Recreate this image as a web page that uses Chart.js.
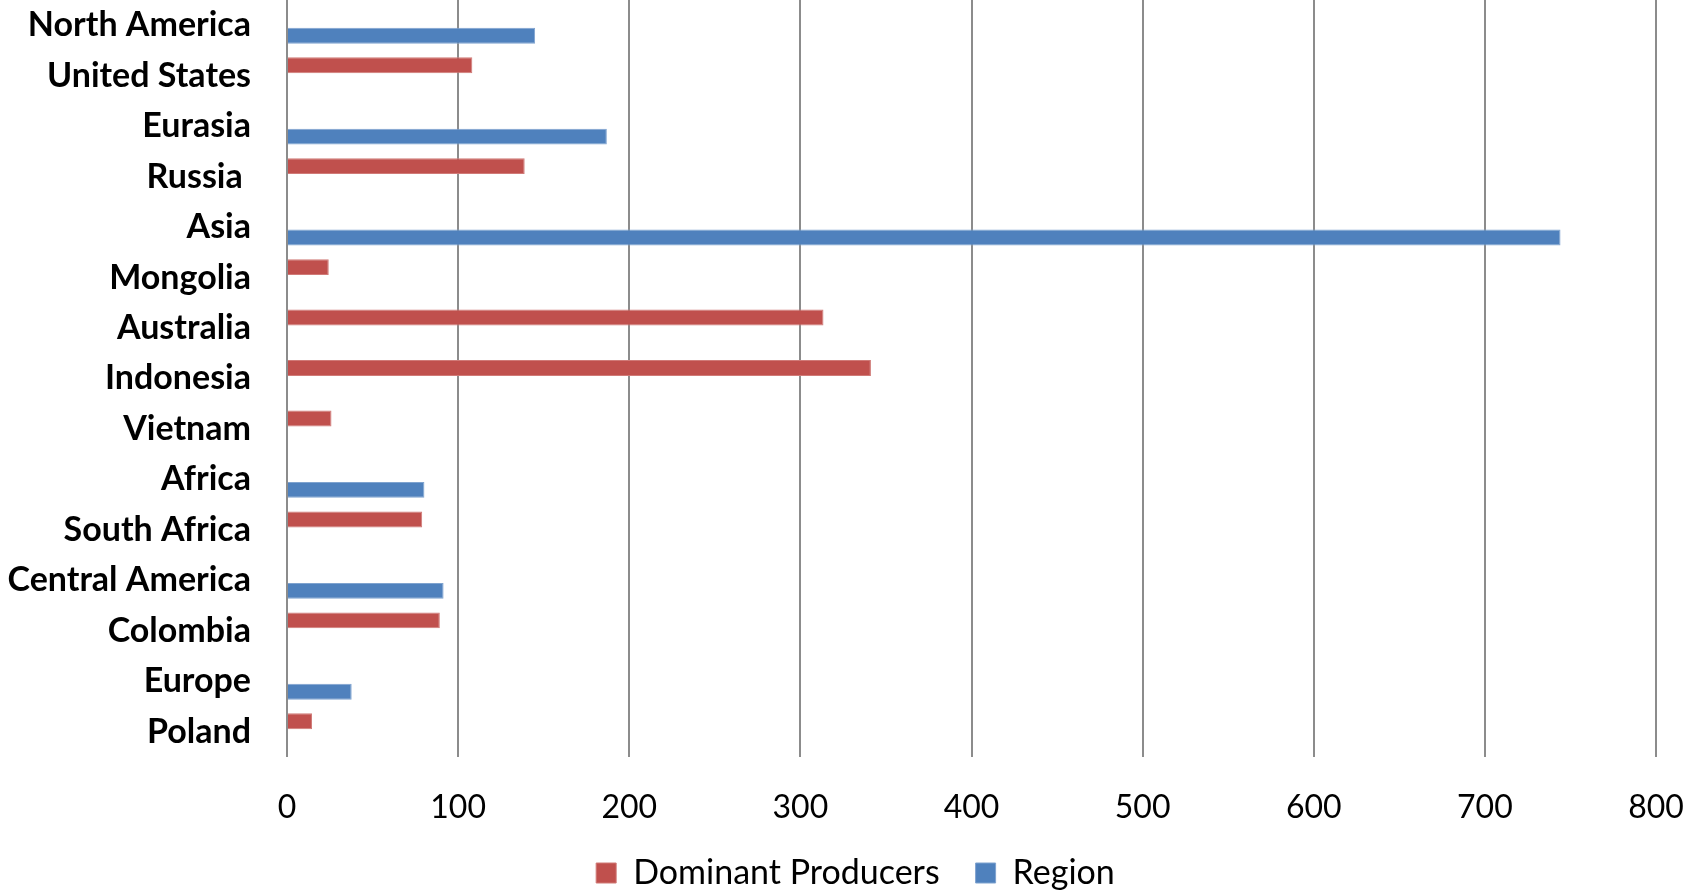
<!DOCTYPE html>
<html>
<head>
<meta charset="utf-8">
<title>Coal production by region and dominant producer</title>
<script src="https://cdn.jsdelivr.net/npm/chart.js@4/dist/chart.umd.min.js"></script>
<style>
  html, body { margin: 0; padding: 0; background: #ffffff; }
  #wrap { width: 1686px; height: 890px; }
</style>
</head>
<body>
<div id="wrap"><canvas id="chart" width="1686" height="890"></canvas></div>
<script>
// Categories, top to bottom
const categories = [
  'North America', 'United States', 'Eurasia', 'Russia ', 'Asia', 'Mongolia',
  'Australia', 'Indonesia', 'Vietnam', 'Africa', 'South Africa',
  'Central America', 'Colombia', 'Europe', 'Poland'
];

// Dominant producing countries (red)
const dominantProducers = [
  null, 108.3, null, 138.9, null, 24.4,
  313.5, 341.2, 26.0, null, 79.0,
  null, 89.3, null, 14.6
];

// Regional totals (blue)
const regionTotals = [
  145.0, null, 186.9, null, 744.2, null,
  null, null, null, 80.3, null,
  91.5, null, 37.8, null
];

// Value axis tick labels
const valueTicks = [0, 100, 200, 300, 400, 500, 600, 700, 800];

const seriesNames = ['Dominant Producers', 'Region'];
const RED = '#C0504D';
const BLUE = '#4F81BD';
const GRID = '#8C8C8C';

Chart.defaults.font.family = 'Lato, "Open Sans", "DejaVu Sans", sans-serif';
Chart.defaults.color = '#000000';

new Chart(document.getElementById('chart'), {
  type: 'bar',
  data: {
    labels: categories,
    datasets: [
      {
        label: seriesNames[0],
        data: dominantProducers,
        backgroundColor: RED,
        borderColor: '#D07A77',
        borderWidth: 1,
        categoryPercentage: 0.83,
        barPercentage: 0.76
      },
      {
        label: seriesNames[1],
        data: regionTotals,
        backgroundColor: BLUE,
        borderColor: '#7FA3CF',
        borderWidth: 1,
        categoryPercentage: 0.83,
        barPercentage: 0.76
      }
    ]
  },
  options: {
    indexAxis: 'y',
    responsive: false,
    animation: false,
    // the negative right padding widens the legend band so its items sit a little right of centre
    layout: { padding: { left: 0, right: -25, top: 0, bottom: 0 } },
    plugins: {
      tooltip: { enabled: false },
      legend: {
        position: 'bottom',
        maxHeight: 70,
        labels: {
          boxWidth: 20,
          boxHeight: 20,
          padding: 36,
          color: '#000000',
          font: { size: 34, weight: 'normal' }
        }
      }
    },
    scales: {
      x: {
        min: valueTicks[0],
        max: valueTicks[valueTicks.length - 1],
        afterBuildTicks: (scale) => {
          scale.ticks = valueTicks.map(v => ({ value: v }));
        },
        afterFit: (scale) => {
          scale.height = 63;
          scale.paddingLeft = 0;
          scale.paddingRight = 30;
        },
        grid: {
          display: true,
          color: GRID,
          lineWidth: 2,
          drawTicks: false
        },
        border: { display: false },
        ticks: {
          padding: 31,
          color: '#000000',
          font: { size: 32, weight: 'normal', lineHeight: 1.2 }
        }
      },
      y: {
        afterFit: (scale) => {
          scale.width = 287;
          scale.paddingTop = 0;
          scale.paddingBottom = 0;
        },
        grid: { display: false, drawTicks: false },
        border: { display: false },
        ticks: {
          padding: 36,
          color: '#000000',
          autoSkip: false,
          font: { size: 34, weight: 'bold' }
        }
      }
    }
  }
});
</script>
</body>
</html>
